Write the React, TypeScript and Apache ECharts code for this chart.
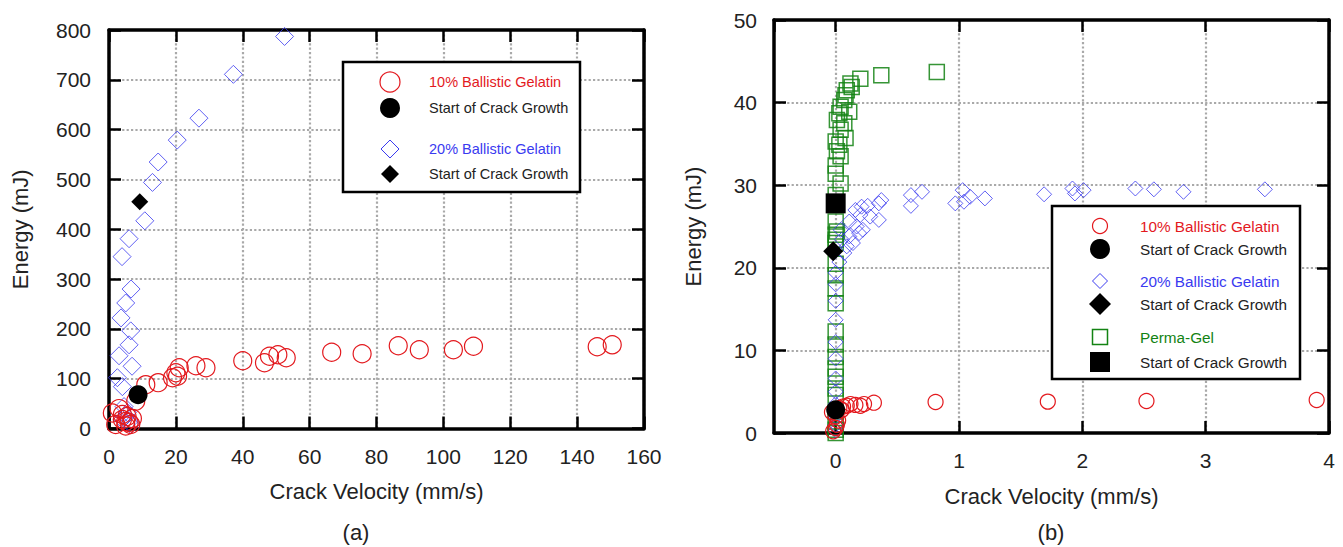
import React, { useEffect, useRef } from "react";
import * as echarts from "echarts";

// ---------- DATA: panel (a) ----------
const gel10A: number[][] = [
  [1, 31], [3, 40], [2, 8], [4, 18], [5.4, 24], [5, 14], [6, 12], [5, 5], [6.5, 8], [4, 28],
  [7, 20], [8, 55], [11, 88], [14.7, 92], [19, 102], [20, 112], [21, 122], [20.5, 105],
  [26, 126], [29, 122], [40, 136], [46.5, 132], [48, 145], [50.5, 148], [53, 142],
  [66.6, 153], [75.7, 150], [86.5, 166], [92.8, 158], [103, 158], [109, 165], [146, 164], [150.5, 168],
];
const gel10AStart: number[][] = [[8.7, 68]];
const gel20A: number[][] = [
  [52.5, 787], [37.2, 711], [26.9, 623], [20.4, 579], [14.7, 535], [13, 494], [10.7, 417],
  [6, 381], [3.9, 345], [6.6, 280], [5, 252], [3.6, 222], [6.5, 196], [6, 168], [3, 146],
  [6.9, 125], [2.5, 102], [4, 84], [4.5, 44], [5.5, 32], [6, 14], [5, 25], [6.5, 8], [4, 18],
];
const gel20AStart: number[][] = [[9.2, 455]];

// ---------- DATA: panel (b) ----------
const gel10B: number[][] = [
  [0.81, 3.75], [1.72, 3.8], [2.52, 3.87], [3.9, 4.0], [0.31, 3.67], [0.23, 3.5], [0.16, 3.4],
  [0.09, 3.3], [0.05, 2.8], [-0.02, 0.2], [0, 0.6], [0.01, 1.0], [0.02, 1.5], [0, 2.0],
  [-0.03, 2.5], [0.03, 3.0], [0.06, 3.2], [0.12, 3.5], [0.2, 3.3],
];
const gel10BStart: number[][] = [[0, 2.8]];
const gel20B: number[][] = [
  [0.61, 28.8], [0.7, 29.2], [0.61, 27.5], [1.03, 29.4], [0.97, 27.8], [1.04, 28.0], [1.09, 28.6],
  [1.21, 28.4], [1.69, 28.9], [1.92, 29.6], [1.94, 29.0], [2.01, 29.4], [2.43, 29.6], [2.58, 29.5],
  [2.82, 29.2], [3.48, 29.5], [0.37, 28.2], [0.35, 27.8], [0.21, 27.4], [0.26, 27.5], [0.16, 27.0],
  [0.35, 25.8], [0.2, 26.4], [0.22, 24.6], [0.11, 25.6], [0.17, 25.0], [0.11, 23.8], [0.05, 23.4],
  [0.04, 24.6], [0.19, 24.2], [0.14, 23.0], [0.07, 21.8], [0.03, 20.7], [0, 19.4], [0, 18],
  [0, 16], [0, 13.7], [0, 11], [0, 9], [0, 6.6], [0, 5], [0, 3.5], [0, 2], [0, 1], [0, 0.3],
  [0.28, 26.2], [0.09, 22.6],
];
const gel20BStart: number[][] = [[-0.02, 22.0]];
const permaGel: number[][] = [
  [0.82, 43.7], [0.37, 43.3], [0.2, 42.9], [0.12, 42.3], [0.13, 41.9], [0.09, 41.5], [0.08, 40.9],
  [0.07, 40.3], [0.04, 39.5], [0.11, 38.9], [0.03, 38.7], [0.01, 37.9], [0.07, 37.5], [0.04, 36.7],
  [0.08, 35.7], [0, 35.3], [0.03, 34.9], [0.01, 34.1], [0.04, 33.5], [0, 32.4], [0, 31.4],
  [0.04, 30.2], [0, 28.8], [0, 25.6], [0.01, 24.4], [0, 23.4], [0, 24.0], [0, 23.0], [0, 20.5],
  [0, 19.1], [0, 17.5], [0, 15.7], [0, 12.3], [0, 10.7], [0, 9.2], [0, 7.8], [0, 6.8], [0, 5.4],
  [0, 4.6], [0, 2.6], [0, 1.4], [0, 0.4], [0, 0],
];
const permaGelStart: number[][] = [[0, 27.8]];

// ---------- AXES ----------
const axisA = { xMin: 0, xMax: 160, xStep: 20, yMin: 0, yMax: 800, yStep: 100 };
const axisB = { xMin: -0.5, xMax: 4, yMin: 0, yMax: 50, yStep: 10 };
const axisBXTicks = [0, 1, 2, 3, 4];

const xTitle = "Crack Velocity (mm/s)";
const yTitle = "Energy (mJ)";
const panelLabels = ["(a)", "(b)"];
const legendTexts = [
  "10% Ballistic Gelatin",
  "Start of Crack Growth",
  "20% Ballistic Gelatin",
  "Start of Crack Growth",
  "Perma-Gel",
  "Start of Crack Growth",
];

const FONT = '"Liberation Sans", Arial, Helvetica, sans-serif';
const RED = "#e3191e";
const BLUE = "#3a3af0";
const GREEN = "#138313";
const TXT = "#222";

const gridLine = { show: true, lineStyle: { color: "#a9a9a9", type: "dotted" as const, width: 2.2 } };
const axisLineStyle = { show: true, onZero: false, lineStyle: { color: "#000", width: 3.5 } };
const tickStyle = { show: true, inside: true, length: 12, lineStyle: { color: "#000", width: 2.5 } };
const labelStyle = { fontSize: 21, color: TXT, fontFamily: FONT };
const nameStyle = { fontSize: 22, color: TXT, fontFamily: FONT };

function open(color: string, w: number, opacity: number) {
  return { color: "rgba(0,0,0,0)", borderColor: color, borderWidth: w, opacity };
}
const solid = { color: "#000", opacity: 1 };

export default function App() {
  const ref = useRef<HTMLDivElement>(null);

  useEffect(() => {
    if (!ref.current) return;
    const chart = echarts.init(ref.current, undefined, { renderer: "svg" });

    const diamond = (cx: number, cy: number, h: number) => [
      [cx, cy - h], [cx + h, cy], [cx, cy + h], [cx - h, cy],
    ];
    const legText = (x: number, y: number, t: string, color: string, size: number) => ({
      type: "text", x, y, z: 101,
      style: { text: t, fill: color, font: `${size}px ${FONT}`, verticalAlign: "middle" },
    });

    const graphic: any[] = [
      // legend (a)
      { type: "rect", z: 100, shape: { x: 343, y: 62, width: 237, height: 130 }, style: { fill: "#fff", stroke: "#000", lineWidth: 2.5 } },
      { type: "circle", z: 101, shape: { cx: 390, cy: 82, r: 10 }, style: { fill: "none", stroke: RED, lineWidth: 1.2 } },
      legText(429, 82, legendTexts[0], RED, 14.5),
      { type: "circle", z: 101, shape: { cx: 390, cy: 108, r: 10 }, style: { fill: "#000" } },
      legText(429, 108, legendTexts[1], TXT, 14.5),
      { type: "polygon", z: 101, shape: { points: diamond(390, 149, 9) }, style: { fill: "none", stroke: BLUE, lineWidth: 1 } },
      legText(429, 149, legendTexts[2], BLUE, 14.5),
      { type: "polygon", z: 101, shape: { points: diamond(390, 174, 9) }, style: { fill: "#000" } },
      legText(429, 174, legendTexts[3], TXT, 14.5),
      // legend (b)
      { type: "rect", z: 100, shape: { x: 1052, y: 206, width: 248, height: 173 }, style: { fill: "#fff", stroke: "#000", lineWidth: 2.5 } },
      { type: "circle", z: 101, shape: { cx: 1100, cy: 226, r: 7.5 }, style: { fill: "none", stroke: RED, lineWidth: 1.2 } },
      legText(1140, 226, legendTexts[0], RED, 15.3),
      { type: "circle", z: 101, shape: { cx: 1100, cy: 249, r: 10 }, style: { fill: "#000" } },
      legText(1140, 249, legendTexts[1], TXT, 15.3),
      { type: "polygon", z: 101, shape: { points: diamond(1100, 281, 7.5) }, style: { fill: "none", stroke: BLUE, lineWidth: 1 } },
      legText(1140, 281, legendTexts[2], BLUE, 15.3),
      { type: "polygon", z: 101, shape: { points: diamond(1100, 304, 11) }, style: { fill: "#000" } },
      legText(1140, 304, legendTexts[3], TXT, 15.3),
      { type: "rect", z: 101, shape: { x: 1092.5, y: 329.5, width: 15, height: 15 }, style: { fill: "none", stroke: GREEN, lineWidth: 1.5 } },
      legText(1140, 337, legendTexts[4], GREEN, 15.3),
      { type: "rect", z: 101, shape: { x: 1090, y: 352, width: 20, height: 20 }, style: { fill: "#000" } },
      legText(1140, 362, legendTexts[5], TXT, 15.3),
      // panel labels
      { type: "text", x: 356, y: 532, style: { text: panelLabels[0], fill: TXT, font: `22px ${FONT}`, align: "center", verticalAlign: "middle" } },
      { type: "text", x: 1051, y: 532, style: { text: panelLabels[1], fill: TXT, font: `22px ${FONT}`, align: "center", verticalAlign: "middle" } },
    ];

    const mirrorX = (gridIndex: number, min: number, max: number, extra: any) => ({
      type: "value", gridIndex, position: "top", min, max, ...extra,
      axisLine: axisLineStyle, axisTick: tickStyle, axisLabel: { show: false }, splitLine: { show: false },
    });
    const mirrorY = (gridIndex: number, min: number, max: number, interval: number) => ({
      type: "value", gridIndex, position: "right", min, max, interval,
      axisLine: axisLineStyle, axisTick: tickStyle, axisLabel: { show: false }, splitLine: { show: false },
    });

    const option: any = {
      animation: false,
      textStyle: { fontFamily: FONT },
      grid: [
        { left: 109, top: 30, width: 535, height: 398.5 },
        { left: 774, top: 20, width: 555, height: 413 },
      ],
      xAxis: [
        {
          type: "value", gridIndex: 0, position: "bottom",
          min: axisA.xMin, max: axisA.xMax, interval: axisA.xStep,
          name: xTitle, nameLocation: "middle", nameGap: 52, nameTextStyle: nameStyle,
          axisLine: axisLineStyle, axisTick: tickStyle,
          axisLabel: { ...labelStyle, margin: 17 }, splitLine: gridLine,
        },
        mirrorX(0, axisA.xMin, axisA.xMax, { interval: axisA.xStep }),
        {
          type: "value", gridIndex: 1, position: "bottom",
          min: axisB.xMin, max: axisB.xMax,
          name: xTitle, nameLocation: "middle", nameGap: 52, nameTextStyle: nameStyle,
          axisLine: axisLineStyle,
          axisTick: { ...tickStyle, customValues: axisBXTicks },
          axisLabel: { ...labelStyle, margin: 17, customValues: axisBXTicks },
          splitLine: gridLine,
        },
        mirrorX(1, axisB.xMin, axisB.xMax, {
          axisTick: { ...tickStyle, customValues: axisBXTicks },
        }),
      ],
      yAxis: [
        {
          type: "value", gridIndex: 0, position: "left",
          min: axisA.yMin, max: axisA.yMax, interval: axisA.yStep,
          name: yTitle, nameLocation: "middle", nameGap: 78, nameTextStyle: nameStyle,
          axisLine: axisLineStyle, axisTick: tickStyle,
          axisLabel: { ...labelStyle, margin: 18 }, splitLine: gridLine,
        },
        mirrorY(0, axisA.yMin, axisA.yMax, axisA.yStep),
        {
          type: "value", gridIndex: 1, position: "left",
          min: axisB.yMin, max: axisB.yMax, interval: axisB.yStep,
          name: yTitle, nameLocation: "middle", nameGap: 70, nameTextStyle: nameStyle,
          axisLine: axisLineStyle, axisTick: tickStyle,
          axisLabel: { ...labelStyle, margin: 17 }, splitLine: gridLine,
        },
        mirrorY(1, axisB.yMin, axisB.yMax, axisB.yStep),
      ],
      series: [
        // panel (a)
        { name: "20% Ballistic Gelatin (a)", type: "scatter", xAxisIndex: 0, yAxisIndex: 0, data: gel20A, symbol: "diamond", symbolSize: 18, itemStyle: open(BLUE, 1, 0.8), z: 2 },
        { name: "10% Ballistic Gelatin (a)", type: "scatter", xAxisIndex: 0, yAxisIndex: 0, data: gel10A, symbol: "circle", symbolSize: 18, itemStyle: open(RED, 1.2, 1), z: 3 },
        { name: "Start 10% (a)", type: "scatter", xAxisIndex: 0, yAxisIndex: 0, data: gel10AStart, symbol: "circle", symbolSize: 19, itemStyle: solid, z: 4 },
        { name: "Start 20% (a)", type: "scatter", xAxisIndex: 0, yAxisIndex: 0, data: gel20AStart, symbol: "diamond", symbolSize: 17, itemStyle: solid, z: 4 },
        // panel (b)
        { name: "Perma-Gel", type: "scatter", xAxisIndex: 2, yAxisIndex: 2, data: permaGel, symbol: "rect", symbolSize: 15, itemStyle: open(GREEN, 1.5, 0.85), z: 2 },
        { name: "20% Ballistic Gelatin (b)", type: "scatter", xAxisIndex: 2, yAxisIndex: 2, data: gel20B, symbol: "diamond", symbolSize: 15, itemStyle: open(BLUE, 1, 0.8), z: 3 },
        { name: "10% Ballistic Gelatin (b)", type: "scatter", xAxisIndex: 2, yAxisIndex: 2, data: gel10B, symbol: "circle", symbolSize: 15, itemStyle: open(RED, 1.2, 1), z: 3 },
        { name: "Start Perma-Gel", type: "scatter", xAxisIndex: 2, yAxisIndex: 2, data: permaGelStart, symbol: "rect", symbolSize: 20, itemStyle: solid, z: 4 },
        { name: "Start 20% (b)", type: "scatter", xAxisIndex: 2, yAxisIndex: 2, data: gel20BStart, symbol: "diamond", symbolSize: 20, itemStyle: solid, z: 4 },
        { name: "Start 10% (b)", type: "scatter", xAxisIndex: 2, yAxisIndex: 2, data: gel10BStart, symbol: "circle", symbolSize: 19, itemStyle: solid, z: 4 },
      ],
      graphic,
    };
    option.series.forEach((s: any) => { s.silent = true; s.emphasis = { disabled: true }; });

    chart.setOption(option);
    return () => chart.dispose();
  }, []);

  return (
    <div
      ref={ref}
      style={{ position: "absolute", left: 0, top: 0, width: 1343, height: 547, background: "#fff" }}
    />
  );
}
